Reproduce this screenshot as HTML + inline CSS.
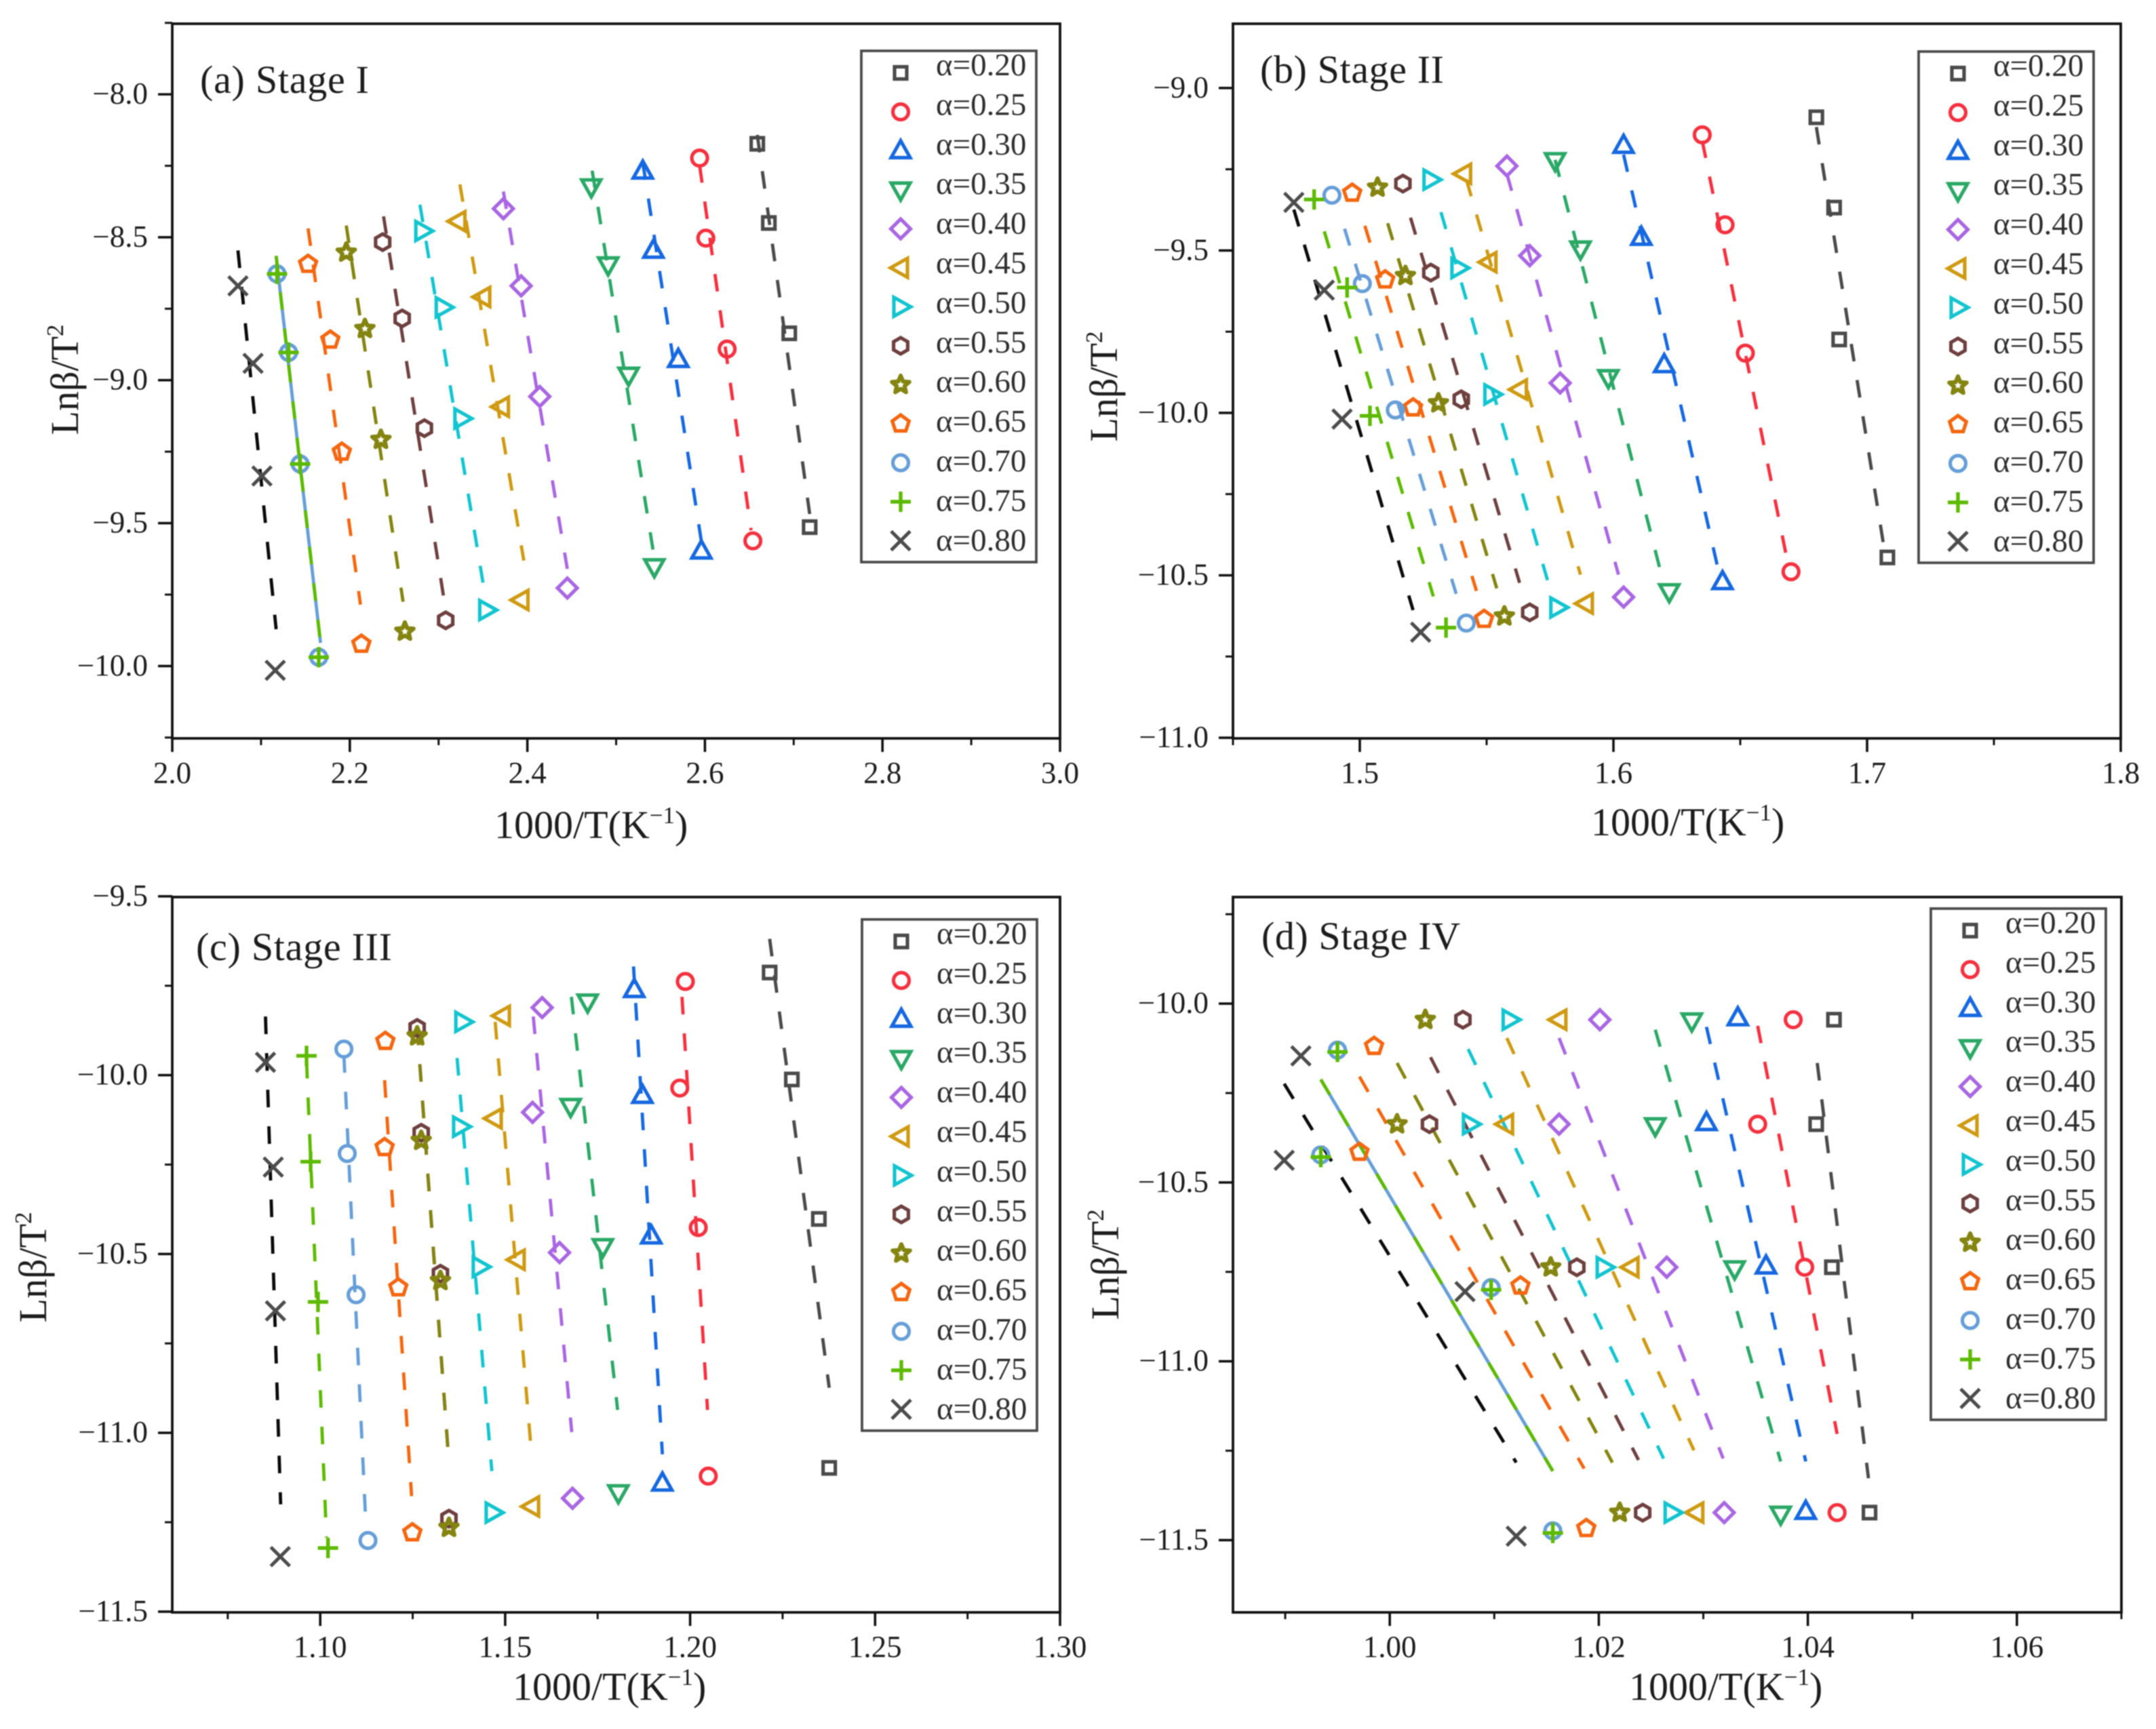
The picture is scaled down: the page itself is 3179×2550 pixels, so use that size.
<!DOCTYPE html>
<html lang="en">
<head>
<meta charset="utf-8">
<title>Lnβ/T² versus 1000/T by conversion for stages I to IV</title>
<style>
html,body{margin:0;padding:0;background:#fff;width:3179px;height:2550px;overflow:hidden}
#figure{display:block;filter:blur(0.9px)}
text{font-family:"Liberation Serif","DejaVu Serif",serif;fill:#1c1c1c}
.tick-label{font-size:45px}
.legend-label{font-size:47px;fill:#2e2e2e}
.stage-title{font-size:58px}
.axis-title{font-size:58px}
</style>
</head>
<body>
<svg id="figure" xmlns="http://www.w3.org/2000/svg" width="3179" height="2550" viewBox="0 0 3179 2550">
  <rect width="3179" height="2550" fill="#ffffff"/>

  <g id="panel-a">
    <text class="stage-title" x="295" y="137" textLength="249">(a) Stage I</text>
    <text class="axis-title" x="729" y="1236">1000/T(K<tspan font-size="35" dy="-22">−1</tspan><tspan dy="22">)</tspan></text>
    <text class="axis-title" transform="translate(115,560) rotate(-90)" text-anchor="middle">Lnβ/T<tspan font-size="35" dy="-22">2</tspan></text>
  </g>
  <g id="panel-b">
    <text class="stage-title" x="1858" y="122" textLength="271">(b) Stage II</text>
    <text class="axis-title" x="2346" y="1232">1000/T(K<tspan font-size="35" dy="-22">−1</tspan><tspan dy="22">)</tspan></text>
    <text class="axis-title" transform="translate(1647,570) rotate(-90)" text-anchor="middle">Lnβ/T<tspan font-size="35" dy="-22">2</tspan></text>
  </g>
  <g id="panel-c">
    <text class="stage-title" x="289" y="1416" textLength="289">(c) Stage III</text>
    <text class="axis-title" x="756" y="2507">1000/T(K<tspan font-size="35" dy="-22">−1</tspan><tspan dy="22">)</tspan></text>
    <text class="axis-title" transform="translate(68,1869) rotate(-90)" text-anchor="middle">Lnβ/T<tspan font-size="35" dy="-22">2</tspan></text>
  </g>
  <g id="panel-d">
    <text class="stage-title" x="1860" y="1400" textLength="293">(d) Stage IV</text>
    <text class="axis-title" x="2402" y="2507">1000/T(K<tspan font-size="35" dy="-22">−1</tspan><tspan dy="22">)</tspan></text>
    <text class="axis-title" transform="translate(1649,1865) rotate(-90)" text-anchor="middle">Lnβ/T<tspan font-size="35" dy="-22">2</tspan></text>
  </g>
</svg>

<script>
// ---------- shared series ----------
const seriesLabels = ['α=0.20','α=0.25','α=0.30','α=0.35','α=0.40','α=0.45','α=0.50','α=0.55','α=0.60','α=0.65','α=0.70','α=0.75','α=0.80'];

// ---------- Stage I ----------
const stage1XDomain = [2.0, 3.0];
const stage1YDomain = [-7.753, -10.253];
const stage1XTicks = [2.0, 2.2, 2.4, 2.6, 2.8, 3.0];
const stage1XMinor = [2.1, 2.3, 2.5, 2.7, 2.9];
const stage1YTicks = [-8.0, -8.5, -9.0, -9.5, -10.0];
const stage1YMinor = [-7.75, -8.25, -8.75, -9.25, -9.75, -10.25];
const stage1X = [
  [2.659, 2.672, 2.695, 2.718],
  [2.594, 2.601, 2.625, 2.654],
  [2.530, 2.542, 2.570, 2.596],
  [2.472, 2.491, 2.514, 2.543],
  [2.373, 2.393, 2.414, 2.445],
  [2.322, 2.350, 2.371, 2.393],
  [2.282, 2.305, 2.326, 2.354],
  [2.237, 2.259, 2.284, 2.308],
  [2.196, 2.217, 2.235, 2.262],
  [2.153, 2.178, 2.191, 2.213],
  [2.118, 2.131, 2.144, 2.165],
  [2.118, 2.131, 2.144, 2.165],
  [2.074, 2.091, 2.101, 2.116]
];
const stage1Y = [
  [-8.173, -8.450, -8.836, -9.514],
  [-8.223, -8.503, -8.891, -9.562],
  [-8.269, -8.546, -8.928, -9.598],
  [-8.323, -8.596, -8.982, -9.652],
  [-8.400, -8.670, -9.057, -9.727],
  [-8.444, -8.709, -9.093, -9.769],
  [-8.478, -8.745, -9.134, -9.804],
  [-8.517, -8.784, -9.168, -9.840],
  [-8.553, -8.820, -9.208, -9.879],
  [-8.594, -8.859, -9.251, -9.923],
  [-8.628, -8.903, -9.293, -9.969],
  [-8.628, -8.903, -9.293, -9.969],
  [-8.670, -8.941, -9.335, -10.015]
];
const stage1FitX = [
  [2.659, 2.718],[2.594, 2.652],[2.530, 2.596],[2.473, 2.543],[2.373, 2.445],[2.324, 2.396],[2.279, 2.350],
  [2.238, 2.308],[2.196, 2.260],[2.153, 2.212],[2.117, 2.167],[2.117, 2.167],[2.074, 2.117]
];
const stage1FitY = [
  [-8.142, -9.468],[-8.248, -9.525],[-8.238, -9.564],[-8.267, -9.622],[-8.340, -9.660],[-8.315, -9.631],[-8.386, -9.708],
  [-8.427, -9.804],[-8.459, -9.775],[-8.469, -9.785],[-8.565, -9.919],[-8.565, -9.919],[-8.546, -9.871]
];

// ---------- Stage II ----------
const stage2XDomain = [1.45, 1.8];
const stage2YDomain = [-8.802, -11.002];
const stage2XTicks = [1.5, 1.6, 1.7, 1.8];
const stage2XMinor = [1.45, 1.55, 1.65, 1.75];
const stage2YTicks = [-9.0, -9.5, -10.0, -10.5, -11.0];
const stage2YMinor = [-9.25, -9.75, -10.25, -10.75];
const stage2X = [
  [1.680, 1.687, 1.689, 1.708],
  [1.635, 1.644, 1.652, 1.670],
  [1.604, 1.611, 1.620, 1.643],
  [1.577, 1.587, 1.598, 1.622],
  [1.558, 1.567, 1.579, 1.604],
  [1.541, 1.551, 1.563, 1.589],
  [1.528, 1.539, 1.552, 1.578],
  [1.517, 1.528, 1.540, 1.567],
  [1.507, 1.518, 1.531, 1.557],
  [1.497, 1.510, 1.521, 1.549],
  [1.489, 1.501, 1.514, 1.542],
  [1.482, 1.495, 1.504, 1.534],
  [1.474, 1.486, 1.493, 1.524]
];
const stage2Y = [
  [-9.090, -9.368, -9.774, -10.445],
  [-9.144, -9.421, -9.816, -10.489],
  [-9.177, -9.460, -9.852, -10.520],
  [-9.223, -9.495, -9.891, -10.550],
  [-9.240, -9.516, -9.908, -10.567],
  [-9.264, -9.536, -9.928, -10.587],
  [-9.282, -9.554, -9.943, -10.599],
  [-9.294, -9.568, -9.958, -10.614],
  [-9.306, -9.578, -9.970, -10.626],
  [-9.323, -9.590, -9.984, -10.635],
  [-9.330, -9.602, -9.991, -10.647],
  [-9.343, -9.614, -10.009, -10.661],
  [-9.352, -9.622, -10.019, -10.675]
];
const stage2FitX = [
  [1.680, 1.707],[1.635, 1.669],[1.604, 1.642],[1.577, 1.620],[1.558, 1.602],[1.542, 1.587],[1.532, 1.574],
  [1.520, 1.563],[1.511, 1.554],[1.502, 1.546],[1.494, 1.538],[1.486, 1.529],[1.474, 1.521]
];
const stage2FitY = [
  [-9.120, -10.430],[-9.162, -10.472],[-9.205, -10.506],[-9.221, -10.531],[-9.264, -10.498],[-9.281, -10.498],[-9.382, -10.515],
  [-9.399, -10.523],[-9.416, -10.540],[-9.424, -10.548],[-9.433, -10.557],[-9.441, -10.565],[-9.374, -10.607]
];

// ---------- Stage III ----------
const stage3XDomain = [1.06, 1.30];
const stage3YDomain = [-9.502, -11.502];
const stage3XTicks = [1.10, 1.15, 1.20, 1.25, 1.30];
const stage3XMinor = [1.075, 1.125, 1.175, 1.225, 1.275];
const stage3YTicks = [-9.5, -10.0, -10.5, -11.0, -11.5];
const stage3YMinor = [-9.75, -10.25, -10.75, -11.25];
const stage3X = [
  [1.2215, 1.2275, 1.2348, 1.2376],
  [1.1987, 1.1972, 1.2022, 1.2049],
  [1.1849, 1.1871, 1.1895, 1.1925],
  [1.1723, 1.1677, 1.1764, 1.1806],
  [1.1600, 1.1574, 1.1647, 1.1682],
  [1.1493, 1.1471, 1.1533, 1.1572],
  [1.1385, 1.1379, 1.1432, 1.1467],
  [1.1262, 1.1273, 1.1325, 1.1348],
  [1.1262, 1.1273, 1.1325, 1.1348],
  [1.1176, 1.1174, 1.1211, 1.1249],
  [1.1064, 1.1073, 1.1097, 1.1129],
  [1.0963, 1.0974, 1.0994, 1.1021],
  [1.0852, 1.0873, 1.0879, 1.0892]
];
const stage3Y = [
  [-9.713, -10.012, -10.402, -11.098],
  [-9.738, -10.036, -10.426, -11.121],
  [-9.761, -10.057, -10.450, -11.141],
  [-9.795, -10.087, -10.479, -11.167],
  [-9.811, -10.104, -10.496, -11.183],
  [-9.834, -10.121, -10.516, -11.206],
  [-9.851, -10.144, -10.536, -11.223],
  [-9.868, -10.161, -10.555, -11.240],
  [-9.891, -10.183, -10.575, -11.265],
  [-9.905, -10.202, -10.594, -11.279],
  [-9.927, -10.219, -10.614, -11.301],
  [-9.946, -10.242, -10.634, -11.322],
  [-9.964, -10.257, -10.659, -11.346]
];
const stage3FitX = [
  [1.2215, 1.2376],[1.1978, 1.2047],[1.1847, 1.1925],[1.1679, 1.1804],[1.1576, 1.1680],[1.1473, 1.1572],[1.1370, 1.1464],
  [1.1262, 1.1348],[1.1262, 1.1348],[1.1174, 1.1247],[1.1064, 1.1123],[1.0963, 1.1017],[1.0852, 1.0893]
];
const stage3FitY = [
  [-9.619, -10.874],[-9.781, -10.936],[-9.696, -11.060],[-9.781, -10.936],[-9.836, -10.998],[-9.851, -11.068],[-9.952, -11.107],
  [-9.867, -11.084],[-9.867, -11.084],[-10.014, -11.177],[-9.944, -11.247],[-9.960, -11.293],[-9.836, -11.200]
];

// ---------- Stage IV ----------
const stage4XDomain = [0.985, 1.07];
const stage4YDomain = [-9.702, -11.702];
const stage4XTicks = [1.00, 1.02, 1.04, 1.06];
const stage4XMinor = [0.99, 1.01, 1.03, 1.05, 1.07];
const stage4YTicks = [-10.0, -10.5, -11.0, -11.5];
const stage4YMinor = [-9.75, -10.25, -10.75, -11.25];
const stage4X = [
  [1.0425, 1.0408, 1.0423, 1.0459],
  [1.0386, 1.0352, 1.0397, 1.0428],
  [1.0333, 1.0303, 1.0360, 1.0398],
  [1.0289, 1.0254, 1.0330, 1.0374],
  [1.0201, 1.0162, 1.0265, 1.0320],
  [1.0162, 1.0111, 1.0231, 1.0293],
  [1.0115, 1.0077, 1.0205, 1.0270],
  [1.0070, 1.0038, 1.0179, 1.0242],
  [1.0034, 1.0007, 1.0154, 1.0220],
  [0.9985, 0.9971, 1.0125, 1.0188],
  [0.9950, 0.9934, 1.0097, 1.0156],
  [0.9950, 0.9934, 1.0097, 1.0156],
  [0.9915, 0.9899, 1.0072, 1.0121]
];
const stage4Y = [
  [-10.045, -10.337, -10.737, -11.423],
  [-10.045, -10.337, -10.737, -11.423],
  [-10.040, -10.333, -10.734, -11.420],
  [-10.048, -10.341, -10.741, -11.427],
  [-10.045, -10.337, -10.737, -11.423],
  [-10.045, -10.337, -10.737, -11.423],
  [-10.045, -10.337, -10.737, -11.423],
  [-10.045, -10.337, -10.737, -11.423],
  [-10.045, -10.337, -10.737, -11.423],
  [-10.119, -10.415, -10.789, -11.467],
  [-10.130, -10.423, -10.794, -11.474],
  [-10.135, -10.429, -10.800, -11.480],
  [-10.146, -10.438, -10.805, -11.489]
];
const stage4FitX = [
  [1.0409, 1.0458],[1.0352, 1.0428],[1.0303, 1.0398],[1.0254, 1.0374],[1.0162, 1.0319],[1.0112, 1.0291],[1.0075, 1.0262],
  [1.0039, 1.0238],[1.0007, 1.0213],[0.9971, 1.0186],[0.9934, 1.0156],[0.9934, 1.0156],[0.9899, 1.0121]
];
const stage4FitY = [
  [-10.166, -11.327],[-10.062, -11.203],[-10.065, -11.280],[-10.073, -11.280],[-10.096, -11.272],[-10.096, -11.249],[-10.127, -11.272],
  [-10.150, -11.276],[-10.166, -11.283],[-10.204, -11.300],[-10.212, -11.307],[-10.212, -11.307],[-10.224, -11.283]
];

// ---------- styles (not data) ----------
const markerColors = ['#4a4a4a','#f5303f','#1668e0','#2aa866','#a966e2','#cf9a12','#12c4cf','#6e3f3f','#848410','#f4660f','#669ed8','#5cba00','#4c4c4c'];
const lineColors   = ['#4a4a4a','#f5303f','#1668e0','#2aa866','#a966e2','#cf9a12','#12c4cf','#6e3f3f','#848410','#f4660f','#669ed8','#5cba00','#0a0a0a'];
const markerShapes = ['square','circle','up','down','diamond','left','right','hexagon','star','pentagon','circle','plus','cross'];

const SVG_NS = 'http://www.w3.org/2000/svg';

function make(tag, attrs, parent) {
  const node = document.createElementNS(SVG_NS, tag);
  Object.keys(attrs).forEach(function (k) { node.setAttribute(k, attrs[k]); });
  parent.appendChild(node);
  return node;
}

function regularPoints(n, r, cx, cy, rotation) {
  const pts = [];
  for (let i = 0; i < n; i++) {
    const a = rotation + i * 2 * Math.PI / n;
    pts.push((cx + r * Math.cos(a)).toFixed(2) + ',' + (cy + r * Math.sin(a)).toFixed(2));
  }
  return pts.join(' ');
}

function starPoints(R, r, cx, cy) {
  const pts = [];
  for (let i = 0; i < 10; i++) {
    const rad = i % 2 === 0 ? R : r;
    const a = -Math.PI / 2 + i * Math.PI / 5;
    pts.push((cx + rad * Math.cos(a)).toFixed(2) + ',' + (cy + rad * Math.sin(a)).toFixed(2));
  }
  return pts.join(' ');
}

function drawMarker(parent, shape, cx, cy, color) {
  const base = { fill: 'none', stroke: color, 'stroke-width': 5.2, 'stroke-linejoin': 'miter' };
  const g = make('g', base, parent);
  if (shape === 'square') {
    make('rect', { x: cx - 9, y: cy - 9, width: 18, height: 18 }, g);
  } else if (shape === 'circle') {
    make('circle', { cx: cx, cy: cy, r: 11.5 }, g);
  } else if (shape === 'up') {
    make('polygon', { points: (cx) + ',' + (cy - 15) + ' ' + (cx + 14) + ',' + (cy + 10) + ' ' + (cx - 14) + ',' + (cy + 10) }, g);
  } else if (shape === 'down') {
    make('polygon', { points: (cx) + ',' + (cy + 15) + ' ' + (cx + 14) + ',' + (cy - 10) + ' ' + (cx - 14) + ',' + (cy - 10) }, g);
  } else if (shape === 'left') {
    make('polygon', { points: (cx - 15) + ',' + (cy) + ' ' + (cx + 10) + ',' + (cy - 14) + ' ' + (cx + 10) + ',' + (cy + 14) }, g);
  } else if (shape === 'right') {
    make('polygon', { points: (cx + 15) + ',' + (cy) + ' ' + (cx - 10) + ',' + (cy - 14) + ' ' + (cx - 10) + ',' + (cy + 14) }, g);
  } else if (shape === 'diamond') {
    make('polygon', { points: regularPoints(4, 14.5, cx, cy, 0) }, g);
  } else if (shape === 'hexagon') {
    make('polygon', { points: regularPoints(6, 12, cx, cy, Math.PI / 2) }, g);
  } else if (shape === 'pentagon') {
    make('polygon', { points: regularPoints(5, 13, cx, cy, -Math.PI / 2) }, g);
  } else if (shape === 'star') {
    make('polygon', { points: starPoints(13.5, 6, cx, cy), 'stroke-width': 6, 'stroke-linejoin': 'round' }, g);
  } else if (shape === 'plus') {
    make('path', { d: 'M' + (cx - 15) + ' ' + cy + 'H' + (cx + 15) + 'M' + cx + ' ' + (cy - 15) + 'V' + (cy + 15), 'stroke-width': 5.4 }, g);
  } else if (shape === 'cross') {
    make('path', { d: 'M' + (cx - 14) + ' ' + (cy - 14) + 'L' + (cx + 14) + ' ' + (cy + 14) + 'M' + (cx + 14) + ' ' + (cy - 14) + 'L' + (cx - 14) + ' ' + (cy + 14), 'stroke-width': 5 }, g);
  }
  return g;
}

function formatTick(v, digits) {
  return v.toFixed(digits).replace('-', '−');
}

function drawPanel(cfg) {
  const root = document.getElementById(cfg.id);
  const f = cfg.frame;
  const sx = function (v) { return f.left + (v - cfg.xDomain[0]) / (cfg.xDomain[1] - cfg.xDomain[0]) * (f.right - f.left); };
  const sy = function (v) { return f.top + (v - cfg.yDomain[0]) / (cfg.yDomain[1] - cfg.yDomain[0]) * (f.bottom - f.top); };

  // frame
  const frame = make('rect', { x: f.left, y: f.top, width: f.right - f.left, height: f.bottom - f.top, fill: 'none', stroke: '#111', 'stroke-width': 3.8 }, root);
  
  

  // x ticks
  cfg.xTicks.forEach(function (v) {
    const x = sx(v);
    const tick = make('line', { x1: x, x2: x, y1: f.bottom, y2: f.bottom + 20, stroke: '#111', 'stroke-width': 3.6 }, root);
    
    
    const label = make('text', { x: x, y: f.bottom + 66, 'text-anchor': 'middle', class: 'tick-label' }, root);
    
    
    label.textContent = formatTick(v, cfg.xDigits);
  });
  cfg.xMinor.forEach(function (v) {
    const x = sx(v);
    const tick = make('line', { x1: x, x2: x, y1: f.bottom, y2: f.bottom + 10, stroke: '#111', 'stroke-width': 3 }, root);
    
    
  });

  // y ticks
  cfg.yTicks.forEach(function (v) {
    const y = sy(v);
    const tick = make('line', { x1: f.left - 21, x2: f.left, y1: y, y2: y, stroke: '#111', 'stroke-width': 3.6 }, root);
    
    
    const label = make('text', { x: f.left - 36, y: y + 14, 'text-anchor': 'end', class: 'tick-label' }, root);
    
    
    label.textContent = formatTick(v, 1);
  });
  cfg.yMinor.forEach(function (v) {
    const y = sy(v);
    const tick = make('line', { x1: f.left - 11, x2: f.left, y1: y, y2: y, stroke: '#111', 'stroke-width': 3 }, root);
    
    
  });

  // fit lines
  seriesLabels.forEach(function (label, s) {
    const isSolid = cfg.solidSeries.indexOf(s) !== -1;
    const fit = make('line', {
      x1: sx(cfg.fitX[s][0]), y1: sy(cfg.fitY[s][0]),
      x2: sx(cfg.fitX[s][1]), y2: sy(cfg.fitY[s][1]),
      stroke: lineColors[s], 'stroke-width': 4.8,
      'stroke-dasharray': isSolid ? 'none' : '26 28'
    }, root);
    
    
  });

  // markers
  seriesLabels.forEach(function (label, s) {
    cfg.x[s].forEach(function (xv, i) {
      const marker = drawMarker(root, markerShapes[s], sx(xv), sy(cfg.y[s][i]), markerColors[s]);
      
      
    });
  });

  // legend
  const legendGroup = make('g', {}, root);
  
  
  const L = cfg.legend;
  const box = make('rect', { x: L.left, y: L.top, width: 258, height: 754, fill: '#fff', stroke: '#4a4a4a', 'stroke-width': 3.8 }, legendGroup);
  
  
  seriesLabels.forEach(function (label, s) {
    const sym = drawMarker(legendGroup, markerShapes[s], L.left + 58, L.top + 32.5 + 57.5 * s, markerColors[s]);
    
    
    const txt = make('text', { x: L.left + 110, y: L.top + 36 + 58.4 * s, class: 'legend-label' }, legendGroup);
    
    
    txt.textContent = label;
  });
}

drawPanel({
  id: 'panel-a', key: 'stage-1',
  frame: { left: 254, right: 1563, top: 35, bottom: 1089 },
  legend: { left: 1270, top: 75 },
  xDomain: stage1XDomain, yDomain: stage1YDomain,
  xTicks: stage1XTicks, xMinor: stage1XMinor, yTicks: stage1YTicks, yMinor: stage1YMinor, xDigits: 1,
  x: stage1X, y: stage1Y, fitX: stage1FitX, fitY: stage1FitY, solidSeries: [10]
});
drawPanel({
  id: 'panel-b', key: 'stage-2',
  frame: { left: 1818, right: 3127, top: 35, bottom: 1089 },
  legend: { left: 2829, top: 76 },
  xDomain: stage2XDomain, yDomain: stage2YDomain,
  xTicks: stage2XTicks, xMinor: stage2XMinor, yTicks: stage2YTicks, yMinor: stage2YMinor, xDigits: 1,
  x: stage2X, y: stage2Y, fitX: stage2FitX, fitY: stage2FitY, solidSeries: []
});
drawPanel({
  id: 'panel-c', key: 'stage-3',
  frame: { left: 254, right: 1563, top: 1323, bottom: 2378 },
  legend: { left: 1271, top: 1356 },
  xDomain: stage3XDomain, yDomain: stage3YDomain,
  xTicks: stage3XTicks, xMinor: stage3XMinor, yTicks: stage3YTicks, yMinor: stage3YMinor, xDigits: 2,
  x: stage3X, y: stage3Y, fitX: stage3FitX, fitY: stage3FitY, solidSeries: []
});
drawPanel({
  id: 'panel-d', key: 'stage-4',
  frame: { left: 1818, right: 3128, top: 1323, bottom: 2378 },
  legend: { left: 2847, top: 1340 },
  xDomain: stage4XDomain, yDomain: stage4YDomain,
  xTicks: stage4XTicks, xMinor: stage4XMinor, yTicks: stage4YTicks, yMinor: stage4YMinor, xDigits: 2,
  x: stage4X, y: stage4Y, fitX: stage4FitX, fitY: stage4FitY, solidSeries: [10]
});
</script>
</body>
</html>
